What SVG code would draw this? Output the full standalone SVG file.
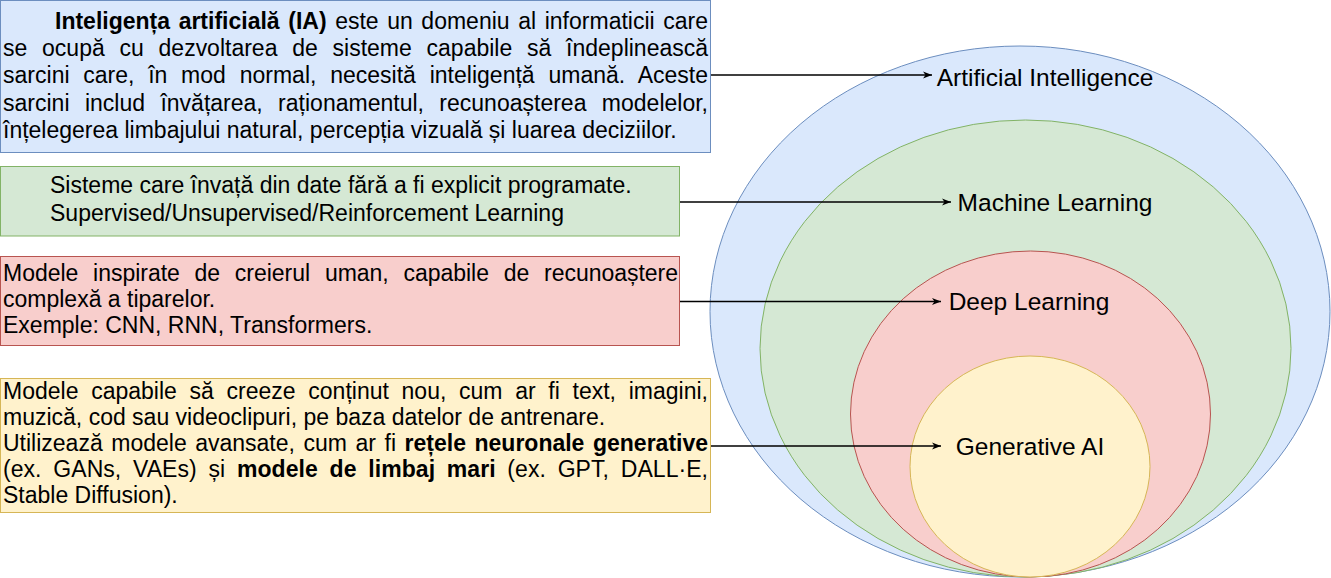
<svg xmlns="http://www.w3.org/2000/svg" width="1331" height="578" viewBox="0 0 1331 578">
<defs>
<style>
.t{font-family:"Liberation Sans",Arial,sans-serif;font-size:23px;fill:#000}
.lbl{font-family:"Liberation Sans",Arial,sans-serif;font-size:24.5px;fill:#000;text-anchor:middle}
.b{font-weight:bold}
.edge{stroke:#000;stroke-width:1.3;fill:none}
</style>
<marker id="arr" markerUnits="userSpaceOnUse" markerWidth="10" markerHeight="10" refX="9" refY="4" orient="auto">
<path d="M0,0.5 L9,4 L0,7.5 L2.5,4 Z" fill="#000"/>
</marker>
</defs>
<rect width="1331" height="578" fill="#fff"/>

<g id="ellipse-ai">
<ellipse cx="1020" cy="311.5" rx="310" ry="265.5" fill="#dae8fc" stroke="#6c8ebf"/>
<text class="lbl" x="1045" y="86">Artificial Intelligence</text>
</g>
<g id="ellipse-ml">
<ellipse cx="1025.5" cy="348.5" rx="265.5" ry="228.5" fill="#d5e8d4" stroke="#82b366"/>
<text class="lbl" x="1055" y="211">Machine Learning</text>
</g>
<g id="ellipse-dl">
<ellipse cx="1030.5" cy="414" rx="180" ry="163" fill="#f8cecc" stroke="#b85450"/>
<text class="lbl" x="1029" y="310">Deep Learning</text>
</g>
<g id="ellipse-genai">
<ellipse cx="1030" cy="466.5" rx="120" ry="110.5" fill="#fff2cc" stroke="#d6b656"/>
<text class="lbl" x="1030" y="455">Generative AI</text>
</g>

<g id="box-ai">
<rect x="0.5" y="0.5" width="710" height="152" fill="#dae8fc" stroke="#6c8ebf"/>
<text class="t" x="55" y="29" word-spacing="2.2" textLength="653" lengthAdjust="spacing"><tspan class="b">Inteligența artificială (IA)</tspan> este un domeniu al informaticii care</text>
<text class="t" x="3" y="56" word-spacing="8.4" textLength="705" lengthAdjust="spacing">se ocupă cu dezvoltarea de sisteme capabile să îndeplinească</text>
<text class="t" x="3" y="83" word-spacing="7.3" textLength="705" lengthAdjust="spacing">sarcini care, în mod normal, necesită inteligență umană. Aceste</text>
<text class="t" x="3" y="110.5" word-spacing="9" textLength="705" lengthAdjust="spacing">sarcini includ învățarea, raționamentul, recunoașterea modelelor,</text>
<text class="t" x="3" y="138">înțelegerea limbajului natural, percepția vizuală și luarea deciziilor.</text>
</g>

<g id="box-ml">
<rect x="0.5" y="166.5" width="679" height="69.5" fill="#d5e8d4" stroke="#82b366"/>
<text class="t" x="50" y="193">Sisteme care învață din date fără a fi explicit programate.</text>
<text class="t" x="50" y="221">Supervised/Unsupervised/Reinforcement Learning</text>
</g>

<g id="box-dl">
<rect x="0.5" y="256.5" width="679" height="89" fill="#f8cecc" stroke="#b85450"/>
<text class="t" x="3" y="281" word-spacing="8.4" textLength="675" lengthAdjust="spacing">Modele inspirate de creierul uman, capabile de recunoaștere</text>
<text class="t" x="3" y="307">complexă a tiparelor.</text>
<text class="t" x="3" y="333">Exemple: CNN, RNN, Transformers.</text>
</g>

<g id="box-genai">
<rect x="0.5" y="378.5" width="710" height="134" fill="#fff2cc" stroke="#d6b656"/>
<text class="t" x="3" y="399" word-spacing="6.3" textLength="705" lengthAdjust="spacing">Modele capabile să creeze conținut nou, cum ar fi text, imagini,</text>
<text class="t" x="3" y="425">muzică, cod sau videoclipuri, pe baza datelor de antrenare.</text>
<text class="t" x="3" y="451" word-spacing="2.2" textLength="705" lengthAdjust="spacing">Utilizează modele avansate, cum ar fi <tspan class="b">rețele neuronale generative</tspan></text>
<text class="t" x="3" y="477" word-spacing="5.3" textLength="705" lengthAdjust="spacing">(ex. GANs, VAEs) și <tspan class="b">modele de limbaj mari</tspan> (ex. GPT, DALL·E,</text>
<text class="t" x="3" y="503">Stable Diffusion).</text>
</g>

<g id="connectors">
<path class="edge" d="M711,75 H932" marker-end="url(#arr)"/>
<path class="edge" d="M680,202 H951" marker-end="url(#arr)"/>
<path class="edge" d="M680,301.5 H941" marker-end="url(#arr)"/>
<path class="edge" d="M711,446 H941" marker-end="url(#arr)"/>
</g>
</svg>
